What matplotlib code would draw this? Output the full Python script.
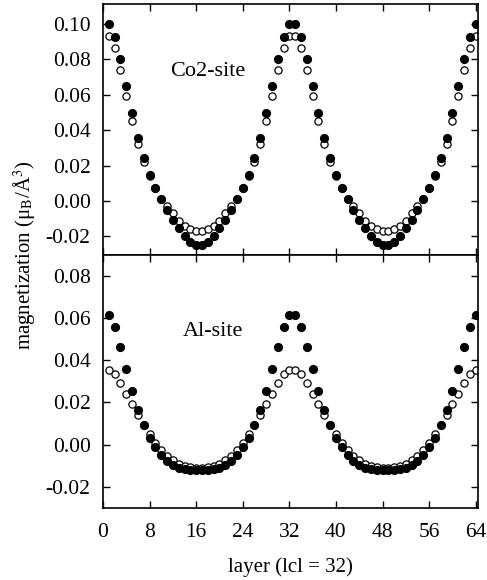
import numpy as np
import matplotlib
matplotlib.use("Agg")
import matplotlib.pyplot as plt

plt.rcParams["font.family"] = ["Liberation Serif", "DejaVu Serif"]
plt.rcParams["mathtext.fontset"] = "stix"
plt.rcParams["axes.unicode_minus"] = False

layers = np.arange(1, 65)

# Co2-site magnetization (filled / open symbols)
co2_filled = [
    0.1000, 0.0928, 0.0800, 0.0648, 0.0495, 0.0357, 0.0242, 0.0145,
    0.0075, 0.0013, -0.0053, -0.0107, -0.0154, -0.0197, -0.0232, -0.0246,
    -0.0246, -0.0232, -0.0197, -0.0154, -0.0107, -0.0053, 0.0013, 0.0075,
    0.0145, 0.0242, 0.0357, 0.0495, 0.0648, 0.0800, 0.0928, 0.1000,
    0.1000, 0.0928, 0.0800, 0.0648, 0.0495, 0.0357, 0.0242, 0.0145,
    0.0075, 0.0013, -0.0053, -0.0107, -0.0154, -0.0197, -0.0232, -0.0246,
    -0.0246, -0.0232, -0.0197, -0.0154, -0.0107, -0.0053, 0.0013, 0.0075,
    0.0145, 0.0242, 0.0357, 0.0495, 0.0648, 0.0800, 0.0928, 0.1000,
]
co2_open = [
    0.0932, 0.0862, 0.0740, 0.0595, 0.0450, 0.0320, 0.0222, 0.0143,
    0.0075, 0.0013, -0.0030, -0.0070, -0.0112, -0.0140, -0.0160, -0.0168,
    -0.0168, -0.0160, -0.0140, -0.0112, -0.0070, -0.0030, 0.0013, 0.0075,
    0.0143, 0.0222, 0.0320, 0.0450, 0.0595, 0.0740, 0.0862, 0.0932,
    0.0932, 0.0862, 0.0740, 0.0595, 0.0450, 0.0320, 0.0222, 0.0143,
    0.0075, 0.0013, -0.0030, -0.0070, -0.0112, -0.0140, -0.0160, -0.0168,
    -0.0168, -0.0160, -0.0140, -0.0112, -0.0070, -0.0030, 0.0013, 0.0075,
    0.0143, 0.0222, 0.0320, 0.0450, 0.0595, 0.0740, 0.0862, 0.0932,
]

# Al-site magnetization (filled / open symbols)
al_filled = [
    0.0613, 0.0558, 0.0463, 0.0356, 0.0253, 0.0166, 0.0092, 0.0033,
    -0.0013, -0.0049, -0.0079, -0.0099, -0.0111, -0.0116, -0.0119, -0.0120,
    -0.0120, -0.0119, -0.0116, -0.0111, -0.0099, -0.0079, -0.0049, -0.0013,
    0.0033, 0.0092, 0.0166, 0.0253, 0.0356, 0.0463, 0.0558, 0.0613,
    0.0613, 0.0558, 0.0463, 0.0356, 0.0253, 0.0166, 0.0092, 0.0033,
    -0.0013, -0.0049, -0.0079, -0.0099, -0.0111, -0.0116, -0.0119, -0.0120,
    -0.0120, -0.0119, -0.0116, -0.0111, -0.0099, -0.0079, -0.0049, -0.0013,
    0.0033, 0.0092, 0.0166, 0.0253, 0.0356, 0.0463, 0.0558, 0.0613,
]
al_open = [
    0.0352, 0.0333, 0.0293, 0.0242, 0.0190, 0.0138, 0.0093, 0.0051,
    0.0007, -0.0024, -0.0052, -0.0074, -0.0090, -0.0102, -0.0108, -0.0111,
    -0.0111, -0.0108, -0.0102, -0.0090, -0.0074, -0.0052, -0.0024, 0.0007,
    0.0051, 0.0093, 0.0138, 0.0190, 0.0242, 0.0293, 0.0333, 0.0352,
    0.0352, 0.0333, 0.0293, 0.0242, 0.0190, 0.0138, 0.0093, 0.0051,
    0.0007, -0.0024, -0.0052, -0.0074, -0.0090, -0.0102, -0.0108, -0.0111,
    -0.0111, -0.0108, -0.0102, -0.0090, -0.0074, -0.0052, -0.0024, 0.0007,
    0.0051, 0.0093, 0.0138, 0.0190, 0.0242, 0.0293, 0.0333, 0.0352,
]

x_ticks = [0, 8, 16, 24, 32, 40, 48, 56, 64]
top_yticks = [-0.02, 0.00, 0.02, 0.04, 0.06, 0.08, 0.10]
bottom_yticks = [-0.02, 0.00, 0.02, 0.04, 0.06, 0.08]

fig = plt.figure(figsize=(4.87, 5.8), dpi=100)
left, right = 103 / 487, 478 / 487
y_top, y_mid, y_bot = 1 - 4 / 580, 1 - 255 / 580, 1 - 508 / 580
ax1 = fig.add_axes([left, y_mid, right - left, y_top - y_mid])
ax2 = fig.add_axes([left, y_bot, right - left, y_mid - y_bot], sharex=ax1)

panels = [
    (ax1, co2_filled, co2_open, top_yticks, (-0.0305, 0.1113), "Co2-site", (170, 72)),
    (ax2, al_filled, al_open, bottom_yticks, (-0.0301, 0.0899), "Al-site", (183, 332)),
]

for ax, filled, hollow, yticks, ylim, label, pos in panels:
    ax.plot(layers, hollow, "o", ms=5.2, mfc="white", mec="black", mew=0.9, zorder=2)
    ax.plot(layers, filled, "o", ms=5.6, mfc="black", mec="black", zorder=3)
    ax.set_ylim(*ylim)
    ax.set_yticks(yticks)
    ax.set_yticklabels([f"{v:.2f}" for v in yticks])
    ax.set_xlim(0, 64.4)
    ax.set_xticks(x_ticks)
    ax.tick_params(direction="in", top=True, right=True, length=5, width=1.0,
                   labelsize=15.5)
    ax.tick_params(axis="y", pad=9)
    ax.tick_params(axis="x", pad=11)
    for sp in ax.spines.values():
        sp.set_linewidth(1.2)
    ax.text(pos[0] / 487, 1 - pos[1] / 580, label, transform=fig.transFigure,
            fontsize=16, va="center", ha="left")

ax1.tick_params(labelbottom=False)
ax2.set_xticklabels([str(t) for t in x_ticks])
ax2.set_xlabel("layer (lcl = 32)", fontsize=15, labelpad=11)

fig.text(25 / 487, 1 - 255 / 580, "magnetization (μ$_{\\rm B}$/Å$^{3}$)",
         rotation=90, fontsize=15, ha="center", va="center")

fig.savefig("out.png", dpi=100)
